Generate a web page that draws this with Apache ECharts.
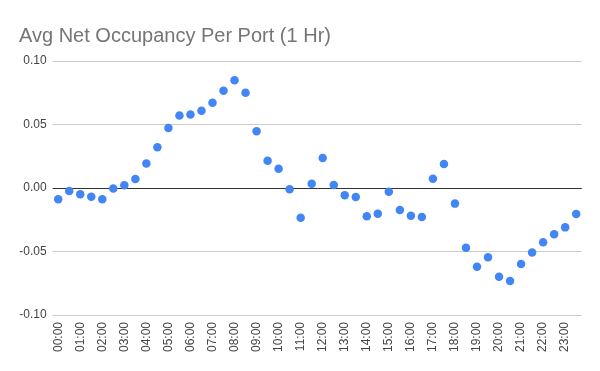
<!DOCTYPE html>
<html>
<head>
<meta charset="utf-8">
<script src="https://cdn.jsdelivr.net/npm/echarts@6/dist/echarts.min.js"></script>
<style>html,body{margin:0;padding:0;background:#fff;}#c{width:600px;height:371px;}</style>
</head>
<body>
<div id="c"></div>
<script>
const titleText = 'Avg Net Occupancy Per Port (1 Hr)';
const categories = ['00:00','00:30','01:00','01:30','02:00','02:30','03:00','03:30','04:00','04:30','05:00','05:30','06:00','06:30','07:00','07:30','08:00','08:30','09:00','09:30','10:00','10:30','11:00','11:30','12:00','12:30','13:00','13:30','14:00','14:30','15:00','15:30','16:00','16:30','17:00','17:30','18:00','18:30','19:00','19:30','20:00','20:30','21:00','21:30','22:00','22:30','23:00','23:30'];
const values = [-0.0089,-0.0024,-0.005,-0.0068,-0.0089,-0.0003,0.0021,0.0071,0.0192,0.032,0.0472,0.057,0.0578,0.0609,0.0672,0.0766,0.0848,0.075,0.0446,0.0215,0.0152,-0.001,-0.0234,0.0034,0.0236,0.0024,-0.0058,-0.0071,-0.0223,-0.0202,-0.0029,-0.0173,-0.0218,-0.0228,0.0073,0.0189,-0.0123,-0.047,-0.062,-0.0546,-0.0698,-0.0732,-0.0598,-0.0507,-0.0428,-0.0365,-0.031,-0.0205];
const yMin = -0.1, yMax = 0.1, yStep = 0.05;

const chart = echarts.init(document.getElementById('c'), null, {renderer: 'canvas'});
chart.setOption({
  animation: false,
  backgroundColor: '#ffffff',
  title: {
    text: titleText,
    left: 14, top: 21,
    textStyle: {fontFamily: 'Liberation Sans, Arial, sans-serif', fontSize: 20, fontWeight: 'normal', color: '#757575'}
  },
  grid: {left: 52.7, right: 18.3, top: 61, bottom: 56},
  xAxis: {
    type: 'category',
    data: categories,
    boundaryGap: true,
    axisLine: {show: false},
    axisTick: {show: false},
    splitLine: {show: false},
    axisLabel: {
      interval: 1,
      rotate: 90,
      margin: 7,
      fontFamily: 'Liberation Sans, Arial, sans-serif',
      fontSize: 12,
      color: '#444'
    }
  },
  yAxis: {
    type: 'value',
    min: yMin, max: yMax, interval: yStep,
    axisLine: {show: false},
    axisTick: {show: false},
    splitLine: {lineStyle: {color: '#cccccc', width: 1}},
    axisLabel: {
      margin: 6,
      fontFamily: 'Liberation Sans, Arial, sans-serif',
      fontSize: 12,
      color: '#444',
      formatter: v => v.toFixed(2)
    }
  },
  series: [{
    type: 'scatter',
    data: values,
    symbolSize: 8.5,
    itemStyle: {color: '#4285F4', opacity: 1},
    z: 3,
    markLine: {
      silent: true,
      symbol: ['none', 'none'],
      label: {show: false},
      lineStyle: {color: '#333333', width: 1, type: 'solid'},
      data: [{yAxis: 0}],
      z: 2
    }
  }]
});
</script>
</body>
</html>
